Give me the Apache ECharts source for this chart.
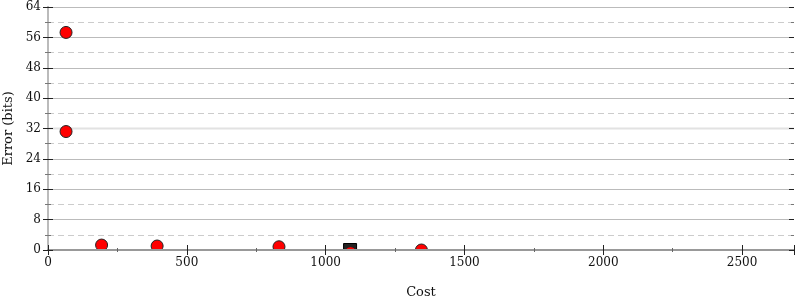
<!DOCTYPE html>
<html><head><meta charset="utf-8">
<script src="https://cdn.jsdelivr.net/npm/echarts@6/dist/echarts.min.js"></script>
<style>html,body{margin:0;padding:0;background:#fff}#c{width:800px;height:300px}</style>
</head><body><div id="c"></div>
<script>
const costs = [65, 65, 193, 393, 832, 1090, 1345];
const errors = [57.3, 31.2, 1.3, 1.05, 0.85, -0.7, 0];
const initialCost = [1088];
const initialError = [0];
const xTicks = [0, 500, 1000, 1500, 2000, 2500];
const xMax = 2687;
const yMax = 64;

const FONT = 'DejaVu Serif';
const chart = echarts.init(document.getElementById('c'), null, {renderer: 'canvas'});
const commonX = {type: 'value', min: 0, max: xMax, interval: 500, gridIndex: 0, z: 10};
const commonY = {type: 'value', min: 0, max: yMax, interval: 8, gridIndex: 0, z: 10};
chart.setOption({
  animation: false,
  grid: {left: 48, right: 6, top: 7, bottom: 50, containLabel: false, outerBoundsMode: 'none'},
  graphic: [{type: 'rect', shape: {x: 0, y: 251, width: 800, height: 12}, style: {fill: '#fff'}, z: 5, silent: true}],
  xAxis: [
    Object.assign({}, commonX, {position: 'bottom', name: 'Cost', nameLocation: 'middle', nameGap: 36,
      nameTextStyle: {fontFamily: FONT, fontSize: 13, color: '#111'},
      axisLine: {show: true, lineStyle: {color: '#999', width: 2}},
      axisTick: {show: true, inside: false, length: 5, lineStyle: {color: '#222', width: 1}},
      minorTick: {show: true, splitNumber: 2, length: 2, lineStyle: {color: '#666'}},
      axisLabel: {fontFamily: FONT, fontSize: 12, color: '#111', margin: 7, showMaxLabel: false,
        formatter: v => xTicks.includes(v) ? String(v) : ''},
      splitLine: {show: false}}),
    Object.assign({}, commonX, {position: 'bottom',
      axisLine: {show: false},
      axisTick: {show: true, inside: true, length: 5, lineStyle: {color: '#222', width: 1}},
      minorTick: {show: true, splitNumber: 2, length: 2, lineStyle: {color: '#666'}},
      axisLabel: {show: false}, splitLine: {show: false}}),
    Object.assign({}, commonX, {position: 'top',
      axisLine: {show: true, lineStyle: {color: '#999', width: 2}},
      axisTick: {show: false}, axisLabel: {show: false}, splitLine: {show: false}})
  ],
  yAxis: [
    Object.assign({}, commonY, {position: 'left', name: 'Error (bits)', nameLocation: 'middle', nameGap: 32,
      nameTextStyle: {fontFamily: FONT, fontSize: 13, color: '#111'},
      axisLine: {show: true, lineStyle: {color: '#bbb', width: 2}},
      axisTick: {show: true, inside: false, length: 5, lineStyle: {color: '#222', width: 1}},
      minorTick: {show: true, splitNumber: 2, length: 3, lineStyle: {color: '#777'}},
      axisLabel: {fontFamily: FONT, fontSize: 12, color: '#111', margin: 7},
      splitLine: {show: false}}),
    Object.assign({}, commonY, {position: 'left',
      axisLine: {show: false},
      axisTick: {show: true, inside: true, length: 5, lineStyle: {color: '#222', width: 1}},
      minorTick: {show: true, splitNumber: 2, length: 3, lineStyle: {color: '#777'}},
      axisLabel: {show: false}, splitLine: {show: false}}),
    Object.assign({}, commonY, {position: 'right',
      axisLine: {show: true, lineStyle: {color: '#bbb', width: 2}},
      axisTick: {show: true, inside: false, length: 5, lineStyle: {color: '#222', width: 1}},
      minorTick: {show: true, splitNumber: 2, length: 3, lineStyle: {color: '#777'}},
      axisLabel: {show: false}, splitLine: {show: false}}),
    Object.assign({}, commonY, {position: 'right',
      axisLine: {show: false},
      axisTick: {show: true, inside: true, length: 5, lineStyle: {color: '#222', width: 1}},
      minorTick: {show: true, splitNumber: 2, length: 3, lineStyle: {color: '#777'}},
      axisLabel: {show: false}, splitLine: {show: false}}),
    Object.assign({}, commonY, {position: 'left', z: 0,
      axisLine: {show: false}, axisTick: {show: false}, minorTick: {show: false, splitNumber: 2},
      axisLabel: {show: false},
      splitLine: {show: true, lineStyle: {color: '#bbb', width: 1}},
      minorSplitLine: {show: true, lineStyle: {color: '#ccc', width: 1, type: [6, 4]}}})
  ],
  series: [
    {type: 'line', data: [[0, 32], [xMax, 32]], xAxisIndex: 0, yAxisIndex: 0, symbol: 'none',
      lineStyle: {color: '#e2e2e2', width: 2}, silent: true, z: 1},
    {type: 'scatter', data: initialCost.map((c, i) => [c, initialError[i]]), symbol: 'rect', symbolSize: 13,
      itemStyle: {color: '#222', borderColor: '#000', borderWidth: 1, opacity: 1}, clip: false, z: 3},
    {type: 'scatter', data: costs.map((c, i) => [c, errors[i]]), symbol: 'circle', symbolSize: 12,
      itemStyle: {color: '#ff0000', borderColor: '#222', borderWidth: 1, opacity: 1}, clip: false, z: 4}
  ]
});
</script></body></html>
